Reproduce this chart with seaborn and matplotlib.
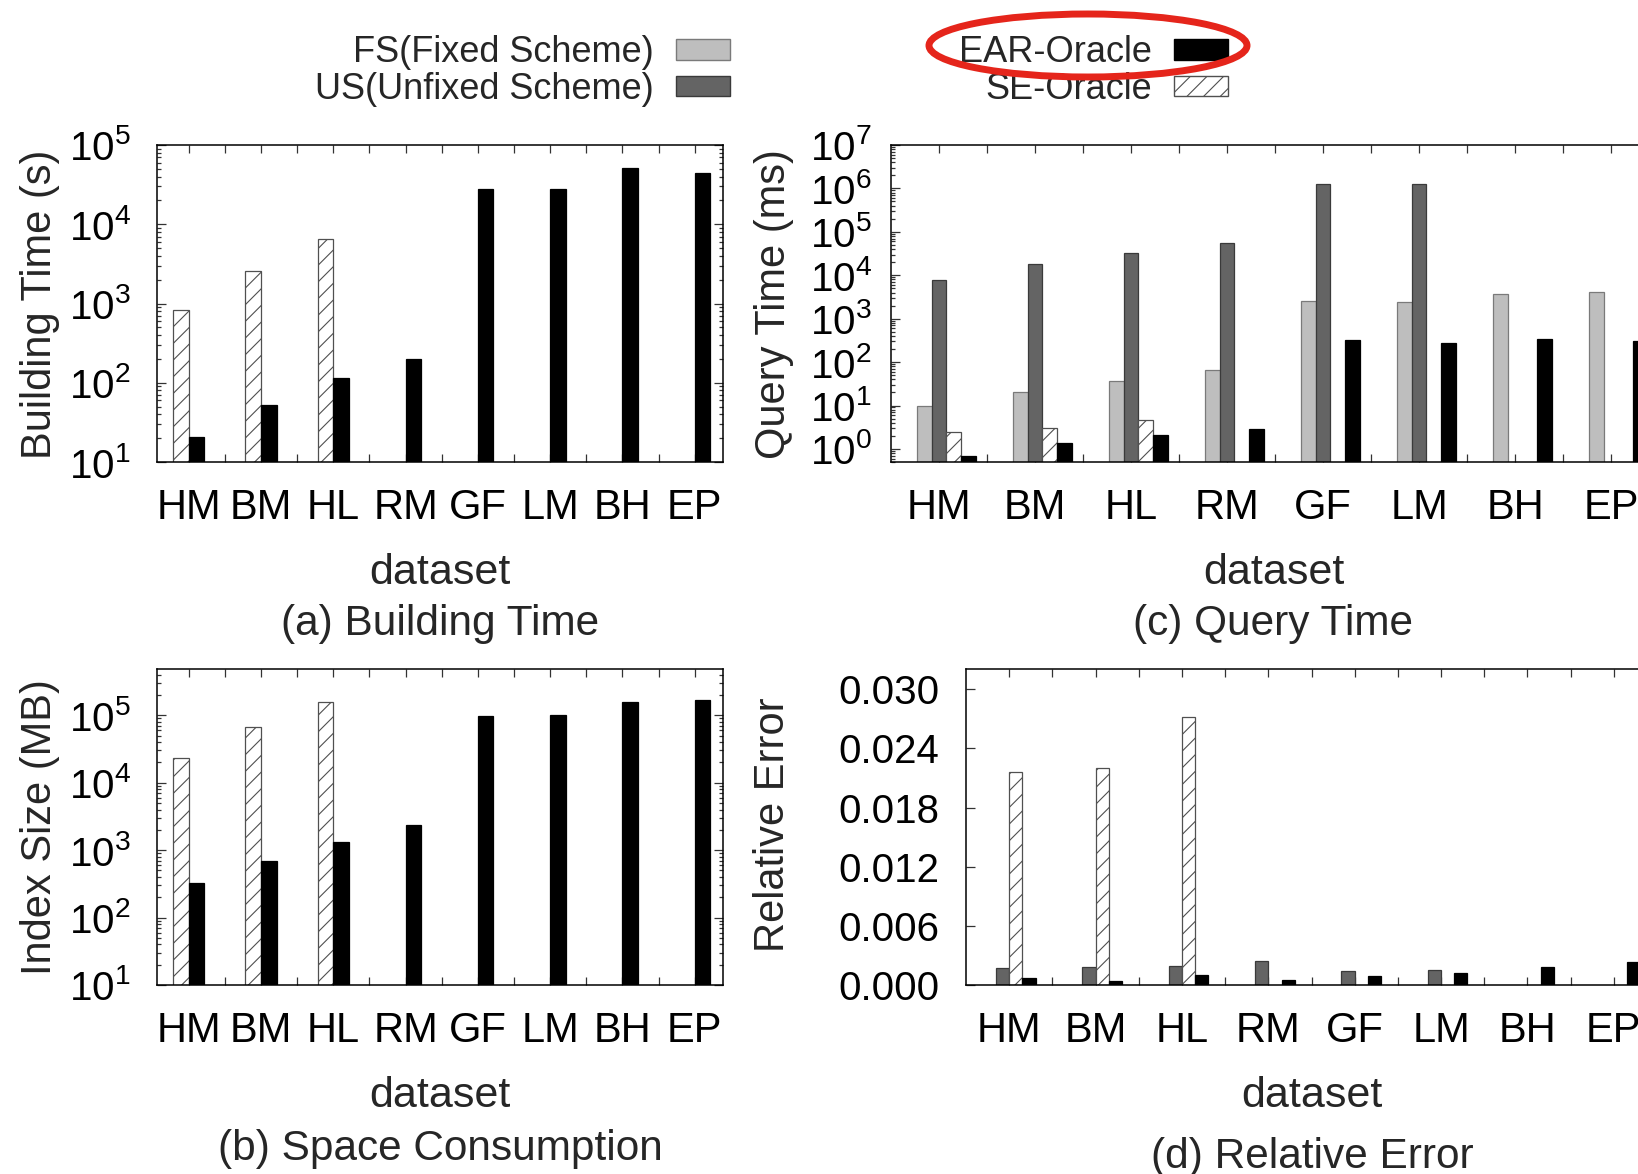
import numpy as np
import pandas as pd
import matplotlib
matplotlib.use("Agg")
import matplotlib.pyplot as plt
import matplotlib.colors as mcolors
from matplotlib.patches import Patch, Ellipse
from matplotlib.ticker import LogLocator, NullFormatter, MultipleLocator, FormatStrFormatter
import seaborn as sns

nan = np.nan

# ---------------- data ----------------
datasets = ["HM", "BM", "HL", "RM", "GF", "LM", "BH", "EP"]
FS = "FS(Fixed Scheme)"
US = "US(Unfixed Scheme)"
EAR = "EAR-Oracle"
SE = "SE-Oracle"

# (a) Building Time (s)
build_se = [830, 2570, 6530, nan, nan, nan, nan, nan]
build_ear = [20.7, 53, 115, 200, 27500, 28000, 51000, 44400]

# (b) Index Size (MB)
size_se = [23000, 66000, 156000, nan, nan, nan, nan, nan]
size_ear = [324, 693, 1320, 2330, 96600, 100000, 158000, 169000]

# (c) Query Time (ms)
query_fs = [10, 21, 36, 65, 2500, 2390, 3650, 4060]
query_us = [7900, 18500, 32600, 56400, 1.24e6, 1.24e6, nan, nan]
query_se = [2.5, 3.0, 4.66, nan, nan, nan, nan, nan]
query_ear = [0.67, 1.37, 2.14, 2.94, 317, 276, 340, 307]

# (d) Relative Error
err_us = [0.00172, 0.00185, 0.00192, 0.00246, 0.00145, 0.00152, nan, nan]
err_se = [0.02164, 0.0220, 0.02717, nan, nan, nan, nan, nan]
err_ear = [0.00067, 0.00040, 0.00104, 0.00054, 0.00094, 0.00118, 0.00179, 0.00229]

# ---------------- style ----------------
sns.set_theme(style="white")
plt.rcParams["font.family"] = ["Liberation Sans", "DejaVu Sans"]
plt.rcParams["mathtext.fontset"] = "custom"
plt.rcParams["mathtext.rm"] = "Liberation Sans"
plt.rcParams["mathtext.it"] = "Liberation Sans:italic"
plt.rcParams["mathtext.bf"] = "Liberation Sans:bold"
plt.rcParams["hatch.linewidth"] = 0.8

W, H = 1638, 1174
fig = plt.figure(figsize=(W / 100, H / 100), dpi=100)


def rect(l, t, r, b):
    return [l / W, 1 - b / H, (r - l) / W, (b - t) / H]


palette = {FS: "#bebebe", US: "#646464", EAR: "#000000", SE: "#ffffff"}
edge_of = {"#bebebe": "#7a7a7a", "#646464": "#3a3a3a", "#000000": "#000000", "#ffffff": "#505050"}


def panel(box, series, bar_w, offset, xlim, log, ylim, ypad):
    ax = fig.add_axes(box)
    rows = []
    for name, vals in series:
        for d, v in zip(datasets, vals):
            rows.append({"dataset": d, "method": name, "value": v})
    df = pd.DataFrame(rows).dropna()
    hue_order = [n for n, _ in series]
    sns.barplot(data=df, x="dataset", y="value", hue="method", order=datasets,
                hue_order=hue_order, palette=palette, width=bar_w * len(hue_order),
                dodge=True, errorbar=None, saturation=1, legend=False,
                log_scale=(True if log else None), linewidth=0.9,
                edgecolor="black", ax=ax)
    for p in ax.patches:
        fc = mcolors.to_hex(p.get_facecolor())
        p.set_edgecolor(edge_of.get(fc, "black"))
        if fc == "#ffffff":
            p.set_hatch("//")
    ax.set_xlim(*xlim)
    ticks = np.arange(len(datasets)) + offset
    ax.set_xticks(ticks, datasets)
    ax.set_xticks(ticks[:-1] + 0.5, minor=True)
    ax.set_xlabel("")
    ax.set_ylabel("")
    if log:
        ax.set_yscale("log")
        ax.yaxis.set_major_locator(LogLocator(base=10, numticks=20))
        ax.yaxis.set_minor_locator(LogLocator(base=10, subs=np.arange(2, 10), numticks=20))
        ax.yaxis.set_minor_formatter(NullFormatter())
    ax.set_ylim(*ylim)
    for s in ax.spines.values():
        s.set_visible(True)
        s.set_color("black")
        s.set_linewidth(1.1)
    ax.tick_params(axis="both", which="both", direction="in", top=True, right=True,
                   bottom=True, left=True, width=0.9, color="#333333", labelcolor="black")
    ax.tick_params(axis="x", which="both", length=5.5, pad=18.5, labelsize=30)
    ax.tick_params(axis="y", which="major", length=6.5, pad=ypad, labelsize=29)
    ax.tick_params(axis="y", which="minor", length=3)
    ax.grid(False)
    return ax


# (a) Building Time
axa = panel(rect(157, 145, 723, 462), [(SE, build_se), (EAR, build_ear)],
            0.216, 0.0, (-0.437, 7.39), True, (10, 1e5), 19)
# (b) Space Consumption
axb = panel(rect(157, 668.5, 723, 985), [(SE, size_se), (EAR, size_ear)],
            0.216, 0.0, (-0.437, 7.39), True, (10, 4.93e5), 19)
# (c) Query Time
wc = 0.156
axc = panel(rect(891, 145, 1659, 462), [(FS, query_fs), (US, query_us), (SE, query_se), (EAR, query_ear)],
            wc, -wc / 2, (-0.5 - wc / 2, 7.5 - wc / 2), True, (0.5, 1e7), 14)
# (d) Relative Error
wd = 0.153
axd = panel(rect(966, 668.5, 1657, 985), [(US, err_us), (SE, err_se), (EAR, err_ear)],
            wd, -wd / 2, (-0.5 - wd / 2, 7.5 - wd / 2), False, (0, 0.0321), 19)
axd.yaxis.set_major_locator(MultipleLocator(0.006))
axd.yaxis.set_major_formatter(FormatStrFormatter("%.3f"))
axd.set_ylim(0, 0.0321)


def ftext(x, y, s, **kw):
    fig.text(x / W, 1 - y / H, s, **kw)


# axis labels
ftext(40, 304, "Building Time (s)", rotation=90, ha="center", va="center", fontsize=30)
ftext(40, 827, "Index Size (MB)", rotation=90, ha="center", va="center", fontsize=30)
ftext(774, 304, "Query Time (ms)", rotation=90, ha="center", va="center", fontsize=30)
ftext(773, 825, "Relative Error", rotation=90, ha="center", va="center", fontsize=30)

ftext(440, 584, "dataset", ha="center", va="baseline", fontsize=31)
ftext(440, 1107, "dataset", ha="center", va="baseline", fontsize=31)
ftext(1274, 584, "dataset", ha="center", va="baseline", fontsize=31)
ftext(1312, 1107, "dataset", ha="center", va="baseline", fontsize=31)

ftext(440, 635, "(a) Building Time", ha="center", va="baseline", fontsize=30.5)
ftext(440, 1160, "(b) Space Consumption", ha="center", va="baseline", fontsize=30.5)
ftext(1273, 635, "(c) Query Time", ha="center", va="baseline", fontsize=30.5)
ftext(1312, 1168, "(d) Relative Error", ha="center", va="baseline", fontsize=30.5)

# legends
common = dict(frameon=False, markerfirst=False, fontsize=26, handlelength=1.5,
              handleheight=0.5, labelspacing=0.05, borderpad=0, borderaxespad=0,
              loc="center right", handletextpad=0.6)
leg1 = fig.legend(handles=[Patch(facecolor="#bebebe", edgecolor="#7a7a7a"),
                           Patch(facecolor="#646464", edgecolor="#3a3a3a")],
                  labels=[FS, US], bbox_to_anchor=(730 / W, 1 - 71 / H), **common)
leg2 = fig.legend(handles=[Patch(facecolor="#000000", edgecolor="#000000"),
                           Patch(facecolor="#ffffff", edgecolor="#505050", hatch="//")],
                  labels=[EAR, SE], bbox_to_anchor=(1228 / W, 1 - 71 / H), **common)

# red highlight ellipse around EAR-Oracle
ell = Ellipse((1088 / W, 1 - 45.5 / H), 318 / W, 63 / H, transform=fig.transFigure,
              fill=False, edgecolor="#e5251b", linewidth=5.0, zorder=20)
fig.add_artist(ell)

fig.savefig("out.png", dpi=100)
